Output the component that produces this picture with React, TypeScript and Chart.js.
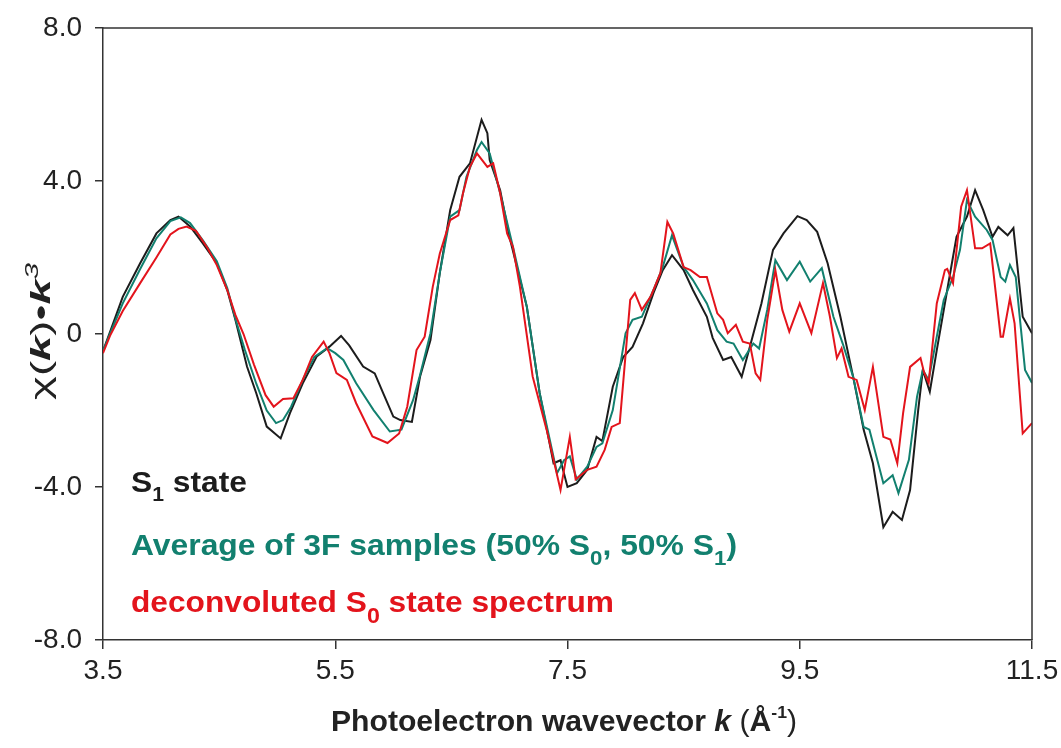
import React, { useEffect, useRef } from "react";
import { Chart, registerables } from "chart.js";

Chart.register(...registerables);

// ---- data ----
const xTicks = [3.5, 5.5, 7.5, 9.5, 11.5];
const yTicks = [-8, -4, 0, 4, 8];

const kS1 = [3.5, 3.56, 3.67, 3.82, 3.96, 4.08, 4.15, 4.25, 4.36, 4.48, 4.57, 4.64, 4.74, 4.82, 4.91, 5.03, 5.11, 5.22, 5.34, 5.45, 5.55, 5.62, 5.74, 5.84, 5.92, 6.0, 6.06, 6.16, 6.23, 6.32, 6.4, 6.49, 6.57, 6.66, 6.76, 6.81, 6.83, 6.92, 7.0, 7.15, 7.26, 7.38, 7.44, 7.5, 7.58, 7.67, 7.75, 7.8, 7.89, 7.98, 8.06, 8.15, 8.24, 8.32, 8.4, 8.5, 8.58, 8.7, 8.75, 8.84, 8.91, 9.0, 9.07, 9.17, 9.27, 9.36, 9.48, 9.56, 9.65, 9.74, 9.85, 9.96, 10.05, 10.13, 10.22, 10.3, 10.38, 10.45, 10.52, 10.56, 10.62, 10.68, 10.77, 10.85, 10.94, 11.01, 11.08, 11.16, 11.21, 11.29, 11.34, 11.42, 11.5];
const yS1 = [-0.45, 0.05, 0.97, 1.85, 2.63, 2.98, 3.07, 2.81, 2.37, 1.85, 1.15, 0.37, -0.85, -1.55, -2.42, -2.73, -2.07, -1.29, -0.59, -0.33, -0.05, -0.3, -0.85, -1.03, -1.6, -2.16, -2.25, -2.3, -1.12, -0.16, 1.59, 3.24, 4.11, 4.46, 5.6, 5.25, 4.55, 3.76, 2.54, 0.71, -1.54, -3.38, -3.3, -4.0, -3.9, -3.55, -2.69, -2.8, -1.38, -0.6, -0.34, 0.28, 1.07, 1.67, 2.06, 1.67, 1.15, 0.45, -0.1, -0.68, -0.6, -1.12, -0.34, 0.8, 2.2, 2.63, 3.08, 2.98, 2.67, 1.85, 0.45, -1.12, -2.5, -3.38, -5.05, -4.65, -4.86, -4.08, -1.99, -0.94, -1.51, -0.42, 1.15, 2.54, 3.07, 3.76, 3.24, 2.54, 2.8, 2.58, 2.77, 0.45, 0.02];

const kAvg = [3.5, 3.56, 3.67, 3.82, 3.96, 4.08, 4.17, 4.25, 4.36, 4.48, 4.57, 4.64, 4.72, 4.82, 4.91, 4.99, 5.05, 5.12, 5.22, 5.32, 5.43, 5.5, 5.57, 5.68, 5.83, 5.97, 6.07, 6.17, 6.23, 6.32, 6.4, 6.49, 6.57, 6.63, 6.72, 6.76, 6.83, 6.92, 7.03, 7.15, 7.26, 7.41, 7.47, 7.52, 7.58, 7.67, 7.75, 7.8, 7.89, 8.0, 8.06, 8.14, 8.24, 8.32, 8.4, 8.5, 8.58, 8.7, 8.79, 8.87, 8.93, 9.01, 9.1, 9.15, 9.22, 9.29, 9.39, 9.5, 9.59, 9.69, 9.79, 9.87, 9.96, 10.05, 10.1, 10.22, 10.3, 10.35, 10.44, 10.51, 10.56, 10.61, 10.68, 10.74, 10.82, 10.88, 10.94, 11.01, 11.11, 11.16, 11.23, 11.27, 11.31, 11.36, 11.44, 11.5];
const yAvg = [-0.45, 0.0, 0.8, 1.7, 2.5, 2.95, 3.05, 2.9, 2.45, 1.9, 1.2, 0.4, -0.4, -1.3, -2.0, -2.33, -2.25, -1.9, -1.2, -0.6, -0.37, -0.5, -0.68, -1.29, -1.99, -2.55, -2.5, -1.73, -1.08, 0.02, 1.59, 3.07, 3.24, 4.11, 4.81, 5.02, 4.72, 3.68, 2.28, 0.71, -1.54, -3.64, -3.3, -3.2, -3.8, -3.47, -2.95, -2.86, -1.99, 0.02, 0.37, 0.45, 1.15, 1.75, 2.58, 1.75, 1.41, 0.8, 0.1, -0.2, -0.25, -0.68, -0.25, -0.38, 0.63, 1.93, 1.41, 1.89, 1.37, 1.72, 0.45, -0.25, -1.12, -2.43, -2.5, -3.9, -3.69, -4.16, -3.29, -1.64, -0.94, -1.2, -0.07, 0.89, 1.49, 2.2, 3.5, 3.07, 2.72, 2.46, 1.49, 1.37, 1.8, 1.49, -0.94, -1.28];

const kS0 = [3.5, 3.56, 3.67, 3.82, 3.96, 4.08, 4.15, 4.22, 4.3, 4.4, 4.48, 4.57, 4.64, 4.71, 4.8, 4.9, 4.97, 5.05, 5.14, 5.22, 5.3, 5.4, 5.45, 5.51, 5.6, 5.68, 5.82, 5.95, 6.05, 6.12, 6.2, 6.27, 6.34, 6.4, 6.49, 6.56, 6.6, 6.66, 6.72, 6.81, 6.86, 6.92, 6.98, 7.03, 7.09, 7.2, 7.32, 7.44, 7.52, 7.57, 7.67, 7.75, 7.82, 7.88, 7.95, 8.04, 8.08, 8.14, 8.22, 8.3, 8.36, 8.41, 8.5, 8.56, 8.64, 8.7, 8.79, 8.84, 8.88, 8.95, 9.01, 9.07, 9.12, 9.16, 9.22, 9.29, 9.35, 9.41, 9.5, 9.6, 9.7, 9.76, 9.82, 9.86, 9.92, 9.99, 10.06, 10.13, 10.22, 10.28, 10.34, 10.39, 10.45, 10.54, 10.57, 10.61, 10.68, 10.75, 10.77, 10.82, 10.89, 10.94, 11.01, 11.07, 11.14, 11.23, 11.25, 11.31, 11.35, 11.42, 11.5];
const yS0 = [-0.5, -0.05, 0.6, 1.33, 2.0, 2.6, 2.75, 2.81, 2.7, 2.25, 1.8, 1.15, 0.5, 0.0, -0.8, -1.6, -1.9, -1.7, -1.68, -1.2, -0.6, -0.2, -0.5, -1.02, -1.2, -1.81, -2.68, -2.85, -2.6, -1.9, -0.42, -0.07, 1.24, 2.1, 2.98, 3.1, 3.68, 4.37, 4.72, 4.37, 4.46, 3.68, 2.63, 2.28, 1.24, -1.11, -2.5, -4.08, -2.69, -3.8, -3.55, -3.47, -3.03, -2.43, -2.33, 0.89, 1.07, 0.63, 1.0, 1.59, 2.93, 2.63, 1.75, 1.67, 1.49, 1.49, 0.54, 0.37, 0.02, 0.24, -0.2, -0.25, -1.03, -1.2, 0.37, 1.67, 0.63, 0.06, 0.8, 0.02, 1.33, 0.45, -0.63, -0.38, -1.12, -1.2, -1.99, -0.86, -2.69, -2.76, -3.38, -2.07, -0.86, -0.63, -1.0, -1.28, 0.8, 1.67, 1.7, 1.33, 3.33, 3.76, 2.24, 2.24, 2.37, -0.07, -0.07, 0.93, 0.28, -2.6, -2.33];

const FAMILY = '"Liberation Sans", Arial, Helvetica, sans-serif';
const C_BLACK = "#1c1c1c";
const C_TEAL = "#12806f";
const C_RED = "#e3141c";

type Seg = { t: string; style?: string; weight?: string; size?: number; dy?: number };

function drawRich(
  ctx: CanvasRenderingContext2D,
  segs: Seg[],
  x: number,
  y: number,
  base: number,
  color: string,
  targetWidth: number,
  rotate = false
) {
  const fontOf = (s: Seg) =>
    `${s.style || "normal"} ${s.weight || "bold"} ${s.size || base}px ${FAMILY}`;
  let total = 0;
  const widths = segs.map((s) => {
    ctx.font = fontOf(s);
    const w = ctx.measureText(s.t).width;
    total += w;
    return w;
  });
  const sx = targetWidth / total;
  ctx.save();
  ctx.translate(x, y);
  if (rotate) ctx.rotate(-Math.PI / 2);
  ctx.scale(sx, 1);
  ctx.fillStyle = color;
  ctx.textBaseline = "alphabetic";
  ctx.textAlign = "left";
  let cx = 0;
  segs.forEach((s, i) => {
    ctx.font = fontOf(s);
    ctx.fillText(s.t, cx, s.dy || 0);
    cx += widths[i];
  });
  ctx.restore();
}

const decorPlugin = {
  id: "decor",
  afterDraw(chart: any) {
    const ctx: CanvasRenderingContext2D = chart.ctx;
    const a = chart.chartArea;
    ctx.save();
    ctx.strokeStyle = "#333";
    ctx.lineWidth = 1.5;
    ctx.beginPath();
    ctx.moveTo(a.left, a.top);
    ctx.lineTo(a.right, a.top);
    ctx.lineTo(a.right, a.bottom);
    ctx.stroke();
    ctx.restore();

    // legend texts
    drawRich(ctx, [{ t: "S" }, { t: "1", size: 20, dy: 9 }, { t: " state" }], 131, 492, 30, C_BLACK, 116);
    drawRich(
      ctx,
      [
        { t: "Average of 3F samples (50% S" },
        { t: "0", size: 21, dy: 10 },
        { t: ", 50% S" },
        { t: "1", size: 21, dy: 10 },
        { t: ")" },
      ],
      131,
      555,
      30,
      C_TEAL,
      606
    );
    drawRich(
      ctx,
      [{ t: "deconvoluted S" }, { t: "0", size: 22, dy: 11 }, { t: " state spectrum" }],
      131,
      612,
      30,
      C_RED,
      483
    );

    // x axis title
    drawRich(
      ctx,
      [
        { t: "Photoelectron wavevector " },
        { t: "k", style: "italic" },
        { t: " (", weight: "normal" },
        { t: "Å" },
        { t: "-1", size: 17, dy: -13 },
        { t: ")", weight: "normal" },
      ],
      331,
      731,
      29,
      "#222",
      466
    );

    // y axis title (rotated)
    drawRich(
      ctx,
      [
        { t: "χ(", weight: "normal" },
        { t: "k", style: "italic" },
        { t: ")•", weight: "normal" },
        { t: "k", style: "italic" },
        { t: "3", style: "italic", weight: "normal", size: 18, dy: -12 },
      ],
      50,
      400,
      28,
      "#222",
      137,
      true
    );
  },
};

export default function App() {
  const ref = useRef<HTMLCanvasElement | null>(null);
  useEffect(() => {
    if (!ref.current) return;
    const mk = (ks: number[], ys: number[]) => ks.map((k, i) => ({ x: k, y: ys[i] }));
    const chart = new Chart(ref.current, {
      type: "line",
      data: {
        datasets: [
          { label: "deconvoluted S0 state spectrum", data: mk(kS0, yS0), borderColor: C_RED, borderWidth: 2, pointRadius: 0, tension: 0, order: 1 },
          { label: "Average of 3F samples", data: mk(kAvg, yAvg), borderColor: C_TEAL, borderWidth: 2, pointRadius: 0, tension: 0, order: 2 },
          { label: "S1 state", data: mk(kS1, yS1), borderColor: C_BLACK, borderWidth: 2, pointRadius: 0, tension: 0, order: 3 },
        ],
      },
      options: {
        animation: false,
        responsive: false,
        devicePixelRatio: 1,
        layout: { padding: { left: 0, right: 29, top: 28, bottom: 0 } },
        plugins: { legend: { display: false }, tooltip: { enabled: false } },
        scales: {
          x: {
            type: "linear",
            min: 3.5,
            max: 11.5,
            afterBuildTicks: (s: any) => {
              s.ticks = xTicks.map((v) => ({ value: v }));
            },
            afterFit: (s: any) => {
              s.height = 108;
              s.paddingLeft = 0;
              s.paddingRight = 0;
            },
            grid: { drawOnChartArea: false, drawTicks: true, tickLength: 9, color: "#333", lineWidth: 1.5 },
            border: { display: true, color: "#333", width: 1.5 },
            ticks: {
              padding: 5,
              color: "#222",
              font: { family: FAMILY, size: 28 },
              callback: (v: any) => Number(v).toFixed(1),
              maxRotation: 0,
            },
          },
          y: {
            type: "linear",
            min: -8,
            max: 8,
            afterBuildTicks: (s: any) => {
              s.ticks = yTicks.map((v) => ({ value: v }));
            },
            afterFit: (s: any) => {
              s.width = 103;
              s.paddingTop = 0;
              s.paddingBottom = 0;
            },
            grid: { drawOnChartArea: false, drawTicks: true, tickLength: 8, color: "#333", lineWidth: 1.5 },
            border: { display: true, color: "#333", width: 1.5 },
            ticks: {
              padding: 13,
              color: "#222",
              font: { family: FAMILY, size: 28 },
              callback: (v: any) => (Number(v) === 0 ? "0" : Number(v).toFixed(1)),
            },
          },
        },
      },
      plugins: [decorPlugin],
    } as any);
    return () => chart.destroy();
  }, []);
  return (
    <div style={{ position: "absolute", left: 0, top: 0, width: 1061, height: 748, background: "#fff" }}>
      <canvas ref={ref} width={1061} height={748} style={{ display: "block" }} />
    </div>
  );
}
